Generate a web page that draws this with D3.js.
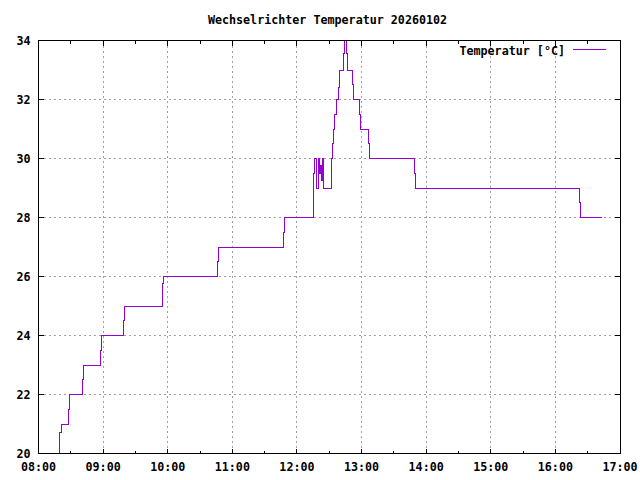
<!DOCTYPE html>
<html>
<head>
<meta charset="utf-8">
<script src="https://cdn.jsdelivr.net/npm/d3@7"></script>
<style>
  body { margin: 0; background: #fff; }
  svg text { font-family: "DejaVu Sans Mono", "Liberation Mono", monospace; font-size: 11.7px; font-weight: bold; fill: #000; }
  svg line, svg path, svg rect { shape-rendering: crispEdges; }
</style>
</head>
<body>
<svg id="chart" width="640" height="480"></svg>
<script>
// readings of the day (time, °C), value holds until the next reading
var times = ["08:18:50","08:19:47","08:20:54","08:28:08","08:29:04","08:41:08","08:42:04","08:57:18","08:58:13",
  "09:19:13","09:20:08","09:54:52","09:55:48","10:45:56","10:46:52","11:47:14","11:48:09",
  "12:15:38","12:16:34","12:18:26","12:19:44","12:20:56","12:22:08","12:23:04","12:24:00","12:24:56",
  "12:31:48","12:32:22","12:33:17","12:34:13","12:35:08","12:36:26","12:38:18","12:39:47","12:43:30","12:44:26",
  "12:46:00","12:47:12","12:51:18","12:52:30","12:58:04","12:59:00","13:06:42","13:07:38",
  "13:49:09","13:50:05","16:22:38","16:23:34","16:43:26"];
var temps = [19.5,20.72,21,21.48,22,22.5,23,23.49,24,
  24.5,25,25.76,26,26.5,27,27.5,28,
  29.5,30,29,30,29.5,29.75,29.25,30,29,
  29.5,30,30.5,31,31.5,32,32.4,33,33.55,34.5,
  33.55,33,32.5,32,31.5,31,30.5,30,
  29.5,29,28.5,28,28];
var xTicks = ["08:00","09:00","10:00","11:00","12:00","13:00","14:00","15:00","16:00","17:00"];
var yTicks = [20,22,24,26,28,30,32,34];
var title = "Wechselrichter Temperatur 20260102";
var seriesName = "Temperatur [°C]";

var parse = d3.timeParse("%H:%M:%S");
var parseTick = d3.timeParse("%H:%M");
var data = times.map(function (t, i) { return { t: parse(t), v: temps[i] }; });

var svg = d3.select("#chart"),
    margin = {top: 40, right: 20.5, bottom: 27, left: 38},
    width = 640 - margin.left - margin.right,
    height = 480 - margin.top - margin.bottom;

var g = svg.append("g")
    .attr("transform", "translate(" + (margin.left + 0.5) + "," + (margin.top + 0.5) + ")");

var x = d3.scaleTime()
    .domain([parseTick(xTicks[0]), parseTick(xTicks[xTicks.length - 1])])
    .range([0, width]);

var y = d3.scaleLinear()
    .domain([20, 34])
    .range([height, 0]);

var hourTicks = xTicks.map(parseTick);
var halfTicks = d3.timeMinute.every(30).range(hourTicks[0], hourTicks[hourTicks.length - 1])
    .filter(function (d) { return d.getMinutes() === 30; });

// grid
g.append("g").selectAll("line")
    .data(hourTicks.slice(1, -1))
    .enter().append("line")
    .attr("x1", function (d) { return Math.round(x(d)); })
    .attr("x2", function (d) { return Math.round(x(d)); })
    .attr("y1", 0).attr("y2", height)
    .attr("stroke", "#a0a0a0").attr("stroke-dasharray", "2,3");

g.append("g").selectAll("line")
    .data(yTicks.slice(1, -1))
    .enter().append("line")
    .attr("x1", 0).attr("x2", width)
    .attr("y1", function (d) { return Math.round(y(d)); })
    .attr("y2", function (d) { return Math.round(y(d)); })
    .attr("stroke", "#a0a0a0").attr("stroke-dasharray", "2,3");

// ticks on all four sides
function ticks(sel, data, len, horizontal) {
    data.forEach(function (d) {
        if (horizontal) {
            var px = Math.round(x(d));
            sel.append("line").attr("x1", px).attr("x2", px).attr("y1", height).attr("y2", height - len);
            sel.append("line").attr("x1", px).attr("x2", px).attr("y1", 0).attr("y2", len);
        } else {
            var py = Math.round(y(d));
            sel.append("line").attr("x1", 0).attr("x2", len).attr("y1", py).attr("y2", py);
            sel.append("line").attr("x1", width).attr("x2", width - len).attr("y1", py).attr("y2", py);
        }
    });
}
var tg = g.append("g").attr("stroke", "#000");
ticks(tg, hourTicks, 5, true);
ticks(tg, halfTicks, 3, true);
ticks(tg, yTicks, 5, false);

// tick labels
g.append("g").selectAll("text")
    .data(hourTicks)
    .enter().append("text")
    .attr("x", function (d) { return x(d); })
    .attr("y", height + 17)
    .attr("text-anchor", "middle")
    .text(function (d, i) { return xTicks[i]; });

g.append("g").selectAll("text")
    .data(yTicks)
    .enter().append("text")
    .attr("x", -8)
    .attr("y", function (d) { return y(d) + 4; })
    .attr("text-anchor", "end")
    .text(function (d) { return d; });

// data line
g.append("clipPath").attr("id", "clip")
  .append("rect").attr("width", width).attr("height", height);

var line = d3.line()
    .curve(d3.curveStepAfter)
    .x(function (d) { return x(d.t); })
    .y(function (d) { return y(d.v); });

g.append("path")
    .datum(data)
    .attr("clip-path", "url(#clip)")
    .attr("fill", "none")
    .attr("stroke", "#9400d3")
    .attr("stroke-width", 1)
    .attr("d", line);

// border
g.append("rect")
    .attr("width", width).attr("height", height)
    .attr("fill", "none").attr("stroke", "#000");

// legend
g.append("text")
    .attr("x", width - 55)
    .attr("y", 14)
    .attr("text-anchor", "end")
    .text(seriesName);
g.append("line")
    .attr("x1", width - 47).attr("x2", width - 14)
    .attr("y1", 9).attr("y2", 9)
    .attr("stroke", "#9400d3");

// title
svg.append("text")
    .attr("x", 327.5)
    .attr("y", 24)
    .attr("text-anchor", "middle")
    .text(title);
</script>
</body>
</html>
